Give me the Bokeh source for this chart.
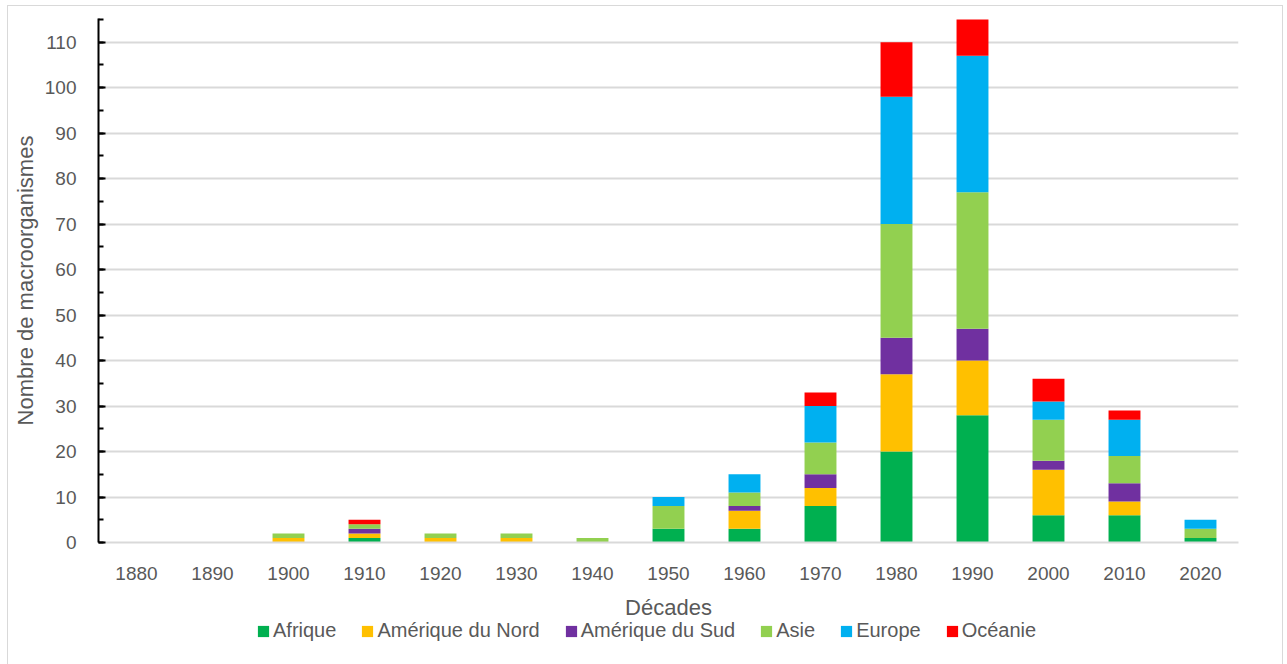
from bokeh.plotting import figure
from bokeh.models import (FactorRange, Range1d, SingleIntervalTicker, Legend,
                          LegendItem, ColumnDataSource)
from bokeh.layouts import column
from bokeh.embed import file_html
from bokeh.resources import INLINE

decades = ["1880", "1890", "1900", "1910", "1920", "1930", "1940", "1950",
           "1960", "1970", "1980", "1990", "2000", "2010", "2020"]

afrique = [0, 0, 0, 1, 0, 0, 0, 3, 3, 8, 20, 28, 6, 6, 1]
amerique_nord = [0, 0, 1, 1, 1, 1, 0, 0, 4, 4, 17, 12, 10, 3, 0]
amerique_sud = [0, 0, 0, 1, 0, 0, 0, 0, 1, 3, 8, 7, 2, 4, 0]
asie = [0, 0, 1, 1, 1, 1, 1, 5, 3, 7, 25, 30, 9, 6, 2]
europe = [0, 0, 0, 0, 0, 0, 0, 2, 4, 8, 28, 30, 4, 8, 2]
oceanie = [0, 0, 0, 1, 0, 0, 0, 0, 0, 3, 12, 8, 5, 2, 0]

regions = ["Afrique", "Amérique du Nord", "Amérique du Sud", "Asie", "Europe", "Océanie"]
colors = ["#00B050", "#FFC000", "#7030A0", "#92D050", "#00B0F0", "#FF0000"]
keys = ["afrique", "amerique_nord", "amerique_sud", "asie", "europe", "oceanie"]

source = ColumnDataSource(dict(
    decade=decades, afrique=afrique, amerique_nord=amerique_nord,
    amerique_sud=amerique_sud, asie=asie, europe=europe, oceanie=oceanie,
))

GRAY_TEXT = "#595959"
GRID = "#d9d9d9"
FONT = "Liberation Sans"
WIDTH = 1274

# --- main stacked bar chart ---
p = figure(
    x_range=FactorRange(*decades, range_padding=0),
    y_range=Range1d(0, 115.2),
    width=WIDTH, height=616,
    output_backend="svg", toolbar_location=None,
    min_border_left=90, min_border_right=44,
    min_border_top=12, min_border_bottom=80,
)
p.outline_line_color = None

p.vbar_stack(keys, x="decade", width=0.42, color=colors,
             line_color=None, source=source)

# y axis
p.yaxis.ticker = SingleIntervalTicker(interval=10, num_minor_ticks=2)
p.yaxis.axis_line_color = "black"
p.yaxis.axis_line_width = 2
p.yaxis.major_tick_line_color = "black"
p.yaxis.major_tick_line_width = 2
p.yaxis.minor_tick_line_color = "black"
p.yaxis.minor_tick_line_width = 2
p.yaxis.major_tick_in = 7
p.yaxis.major_tick_out = 0
p.yaxis.minor_tick_in = 5
p.yaxis.minor_tick_out = 0
p.yaxis.major_label_standoff = 22
p.yaxis.axis_label = "Nombre de macroorganismes"
p.yaxis.axis_label_standoff = 4

# x axis
p.xaxis.axis_line_color = GRID
p.xaxis.axis_line_width = 2
p.xaxis.major_tick_line_color = None
p.xaxis.minor_tick_line_color = None
p.xaxis.major_label_standoff = 18
p.xaxis.axis_label = "Décades"
p.xaxis.axis_label_standoff = 12

for ax in (p.xaxis, p.yaxis):
    ax.major_label_text_font = FONT
    ax.major_label_text_font_size = "19px"
    ax.major_label_text_color = GRAY_TEXT
    ax.axis_label_text_font = FONT
    ax.axis_label_text_font_size = "22px"
    ax.axis_label_text_font_style = "normal"
    ax.axis_label_text_color = GRAY_TEXT

p.xgrid.grid_line_color = None
p.ygrid.grid_line_color = GRID
p.ygrid.grid_line_width = 2

# --- legend strip, slightly overlapping the chart's bottom margin ---
lf = figure(
    x_range=Range1d(0, 1), y_range=Range1d(0, 1),
    width=WIDTH, height=50,
    output_backend="svg", toolbar_location=None,
    x_axis_type=None, y_axis_type=None,
    min_border=0, margin=(-6, 0, 0, 0),
)
lf.outline_line_color = None
lf.background_fill_alpha = 0
lf.border_fill_alpha = 0
lf.xgrid.visible = False
lf.ygrid.visible = False

# zero-size swatch renderers: only their legend glyphs are drawn
swatches = [lf.vbar(x=[0.5], top=[0], bottom=[0], width=0, color=c, line_color=None)
            for c in colors]

legend = Legend(
    items=[LegendItem(label=r, renderers=[g]) for r, g in zip(regions, swatches)],
    orientation="horizontal", location=(158, 24),
    glyph_width=14, glyph_height=14, label_standoff=3, spacing=24,
    padding=0, margin=0, border_line_color=None, background_fill_alpha=0,
    label_text_font=FONT, label_text_font_size="20px",
    label_text_color=GRAY_TEXT, label_height=14,
)
lf.add_layout(legend, "center")

page = column(p, lf, spacing=0, styles={"border": f"1px solid {GRID}"},
              margin=(5, 0, 0, 7))

open("out.html", "w").write(file_html(page, INLINE))
